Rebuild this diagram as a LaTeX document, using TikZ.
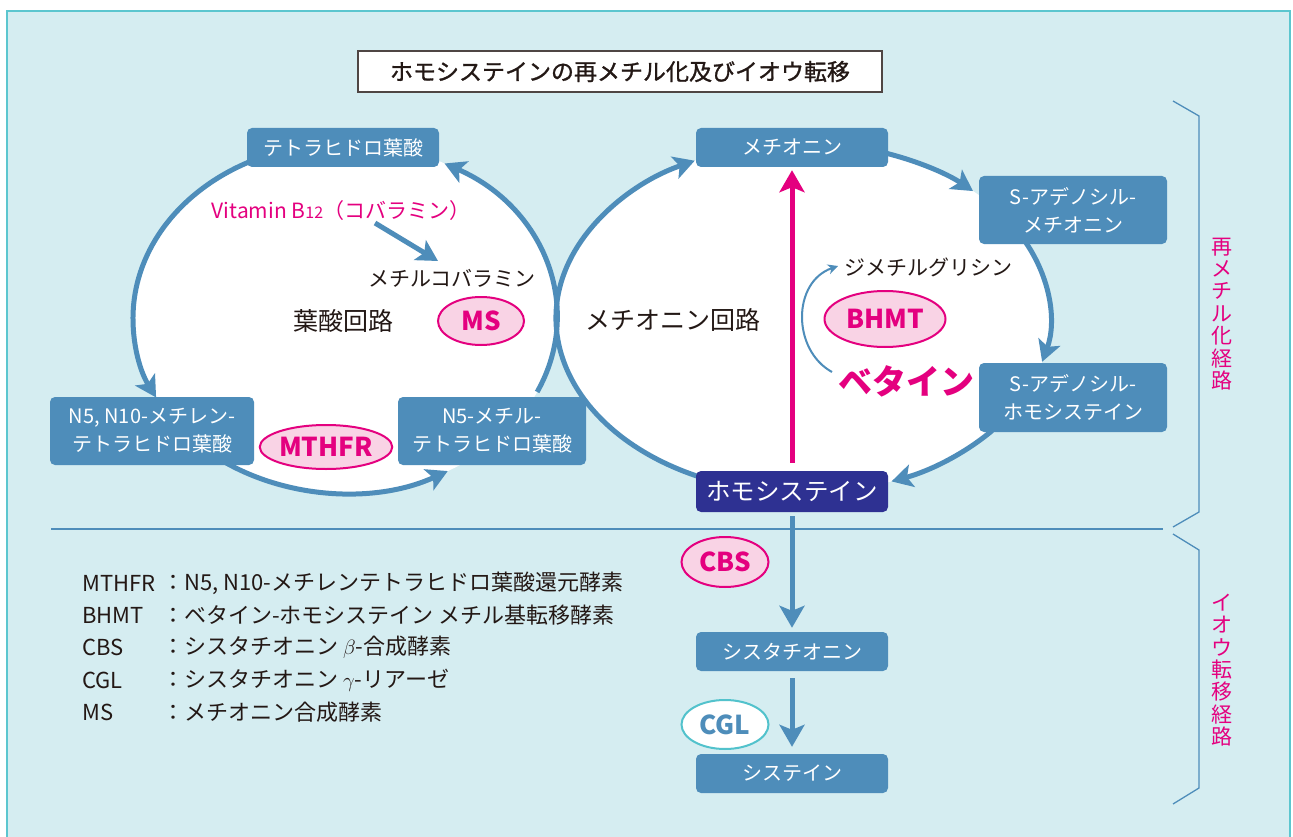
\documentclass[tikz,border=0pt]{standalone}
\usepackage{fontspec}
\setmainfont{Noto Sans CJK JP}
\newfontfamily\jptitle{Noto Sans CJK JP}[FakeBold=1.2]
\usetikzlibrary{arrows.meta,calc,shapes.geometric}
\definecolor{bg}{HTML}{D5EDF1}
\definecolor{framec}{HTML}{5CC6CF}
\definecolor{boxc}{HTML}{4E8DBA}
\definecolor{navy}{HTML}{2E3192}
\definecolor{mag}{HTML}{E4007F}
\definecolor{pinkf}{HTML}{F9D3E5}
\definecolor{tealc}{HTML}{52C2CC}
\definecolor{ink}{HTML}{231815}
\begin{document}
\begin{tikzpicture}[x=1pt,y=-1pt,
  stepbox/.style={rounded corners=5pt, fill=boxc, text=white, font=\fontsize{20}{28}\selectfont, align=center, inner sep=0pt, minimum width=192pt, minimum height=39pt},
  twobox/.style={stepbox, minimum width=188pt, minimum height=68pt},
  enz/.style={ellipse, draw=mag, line width=2pt, fill=pinkf, text=mag, font=\bfseries\fontsize{26}{26}\selectfont, inner sep=0pt},
  lbl/.style={text=ink, inner sep=0pt},
  cyc/.style={draw=boxc, line width=5pt, -{Stealth[length=21pt,width=23pt,inset=5pt]}},
  varr/.style={draw=boxc, line width=5pt, -{Stealth[length=22pt,width=25pt,inset=5pt]}},
  magarr/.style={draw=mag, line width=5pt, -{Stealth[length=22pt,width=25pt,inset=5pt]}},
  thinarr/.style={draw=boxc, line width=2pt, -{Stealth[length=10pt,width=10pt,inset=3pt]}},
  brk/.style={draw=boxc, line width=1.3pt},
  leg/.style={text=ink, inner sep=0pt, anchor=west, font=\fontsize{22}{22}\selectfont},
  vtext/.style={text=mag, inner sep=0pt, align=center, font=\fontsize{21}{22.4}\selectfont}
]
\useasboundingbox (0,0) rectangle (1293,837);
\clip (0,0) rectangle (1293,837);
\fill[white] (0,0) rectangle (1293,837);
\draw[draw=framec, line width=2.5pt, fill=bg] (7,11) rectangle (1290,860);

% title
\node[draw=ink!80, line width=1.2pt, fill=white, minimum width=524pt, minimum height=41pt, inner sep=0pt, text=ink, font=\jptitle\fontsize{23}{23}\selectfont] (title) at (620,71.5) {ホモシステインの再メチル化及びイオウ転移};

% cycles
\coordinate (LC) at (345,318);
\coordinate (RC) at (803,318);
\fill[white] (LC) ellipse [x radius=212, y radius=175];
\fill[white] (RC) ellipse [x radius=247, y radius=175];

\draw[cyc] ($(LC)+(244:212 and 175)$) arc[start angle=244, end angle=153, x radius=212, y radius=175];
\draw[cyc] ($(LC)+(125:212 and 175)$) arc[start angle=125, end angle=61, x radius=212, y radius=175];
\draw[cyc] ($(LC)+(25:212 and 175)$) arc[start angle=25, end angle=-62, x radius=212, y radius=175];

\draw[cyc] ($(RC)+(113:247 and 175)$) arc[start angle=113, end angle=244, x radius=247, y radius=175];
\draw[cyc] ($(RC)+(-72:247 and 175)$) arc[start angle=-72, end angle=-46.5, x radius=247, y radius=175];
\draw[cyc] ($(RC)+(-26:247 and 175)$) arc[start angle=-26, end angle=14.5, x radius=247, y radius=175];
\draw[cyc] ($(RC)+(40:247 and 175)$) arc[start angle=40, end angle=69, x radius=247, y radius=175];

% boxes
\node[stepbox] (thf) at (343,147.5) {テトラヒドロ葉酸};
\node[twobox, minimum width=204pt] (mthf) at (152,431) {N5, N10-メチレン-\\テトラヒドロ葉酸};
\node[twobox] (methf) at (492,431) {N5-メチル-\\テトラヒドロ葉酸};
\node[stepbox] (met) at (792,147.5) {メチオニン};
\node[twobox] (sam) at (1073,210) {S-アデノシル-\\メチオニン};
\node[twobox, minimum height=69pt] (sah) at (1073,397.5) {S-アデノシル-\\ホモシステイン};
\node[stepbox, fill=navy, minimum height=41pt, font=\fontsize{24.5}{24.5}\selectfont] (hcy) at (792,491.5) {ホモシステイン};
\node[stepbox] (cth) at (792,651.5) {シスタチオニン};
\node[stepbox] (cys) at (792,773.5) {システイン};

% labels
\node[lbl, text=mag, font=\fontsize{21}{21}\selectfont] (vit) at (341,211) {Vitamin B{\fontsize{16}{16}\selectfont 12}（コバラミン）};
\node[lbl, font=\fontsize{21}{21}\selectfont] (mecbl) at (452,278) {メチルコバラミン};
\node[lbl, font=\fontsize{25}{25}\selectfont] (folc) at (343,321) {葉酸回路};
\node[lbl, font=\fontsize{25}{25}\selectfont] (metc) at (673,320) {メチオニン回路};
\node[lbl, font=\fontsize{21}{21}\selectfont] (dmg) at (928,267) {ジメチルグリシン};
\node[lbl, text=mag, font=\bfseries\fontsize{34}{34}\selectfont] (bet) at (906,381) {ベタイン};

\coordinate (v1) at (375,223);
\coordinate (v2) at (438,261);
\draw[cyc] (v1) -- (v2);

\coordinate (b1) at (832,372);
\coordinate (b2) at (838,266);
\draw[thinarr] (b1) .. controls (792,350) and (792,282) .. (b2);

% enzymes
\node[enz, minimum width=86pt, minimum height=48pt] (ms) at (481,321) {MS};
\node[enz, minimum width=124pt, minimum height=44pt] (mthfr) at (326,447) {MTHFR};
\node[enz, minimum width=121pt, minimum height=56pt] (bhmt) at (885,319) {BHMT};
\node[enz, minimum width=87pt, minimum height=50pt] (cbs) at (725,562) {CBS};
\node[enz, draw=tealc, fill=white, text=boxc, minimum width=87pt, minimum height=49pt] (cgl) at (725,724.5) {CGL};

% vertical arrows
\draw[magarr, shorten <=8pt, shorten >=3pt] (hcy.north) -- (met.south);
\draw[varr, shorten <=4pt, shorten >=4pt] (hcy.south) -- (cth.north);
\draw[varr, shorten <=7pt, shorten >=7pt] (cth.south) -- (cys.north);

% separator and brackets
\draw[brk] (51,529) -- (1163,529);
\draw[brk] (1173,101) -- (1199,116) -- (1199,512) -- (1173,527);
\draw[brk] (1173,534) -- (1199,550) -- (1199,788) -- (1173,804);
\node[vtext] (rmeth) at (1222,314) {再\\メ\\チ\\ル\\化\\経\\路};
\node[vtext] (trans) at (1222,670) {イ\\オ\\ウ\\転\\移\\経\\路};

% legend
\node[leg] (k1) at (82,583) {MTHFR};
\node[leg] (d1) at (162,583) {：N5, N10-メチレンテトラヒドロ葉酸還元酵素};
\node[leg] (k2) at (82,615) {BHMT};
\node[leg] (d2) at (162,615) {：ベタイン-ホモシステイン メチル基転移酵素};
\node[leg] (k3) at (82,647.5) {CBS};
\node[leg] (d3) at (162,647.5) {：シスタチオニン $\beta$-合成酵素};
\node[leg] (k4) at (82,680) {CGL};
\node[leg] (d4) at (162,680) {：シスタチオニン $\gamma$-リアーゼ};
\node[leg] (k5) at (82,712) {MS};
\node[leg] (d5) at (162,712) {：メチオニン合成酵素};
\end{tikzpicture}
\end{document}
